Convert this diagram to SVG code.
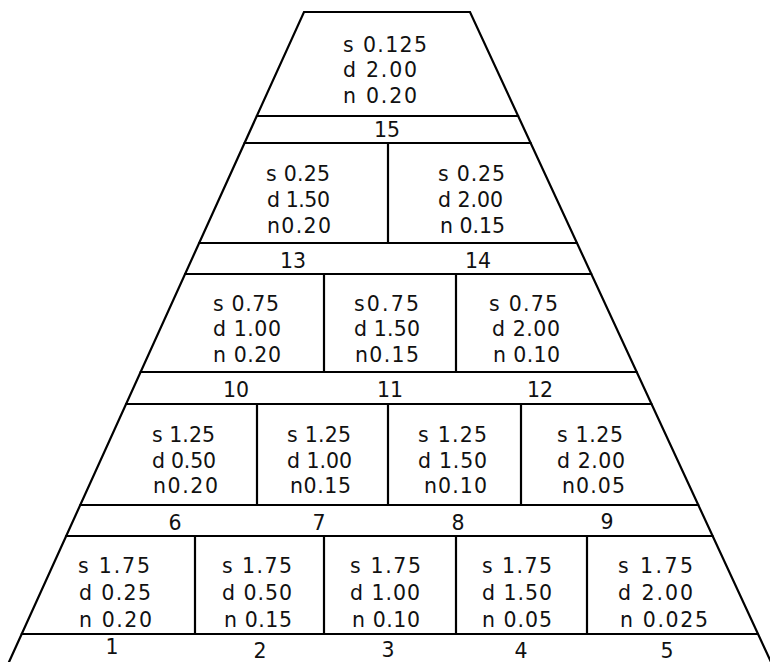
<svg xmlns="http://www.w3.org/2000/svg" width="770" height="662" viewBox="0 0 770 662">
<style>
.ln{stroke:#000;stroke-width:2.2;fill:none;stroke-linecap:round}
.t{font-family:"DejaVu Sans","Liberation Sans",sans-serif;font-size:20.5px;fill:#111}
.b{font-family:"DejaVu Sans","Liberation Sans",sans-serif;font-size:20.5px;fill:#111;text-anchor:middle}
</style>
<rect width="770" height="662" fill="#fff"/>
<g id="frame" class="ln">
<polyline points="9,662 304,12 470,12 771,662"/>
<line x1="256.8" y1="116" x2="518.2" y2="116"/>
<line x1="244.6" y1="143" x2="530.7" y2="143"/>
<line x1="199.2" y1="243" x2="577" y2="243"/>
<line x1="185.1" y1="274" x2="591.3" y2="274"/>
<line x1="140.6" y1="372" x2="636.7" y2="372"/>
<line x1="126.1" y1="404" x2="651.5" y2="404"/>
<line x1="80.3" y1="505" x2="698.3" y2="505"/>
<line x1="66.2" y1="536" x2="712.6" y2="536"/>
<line x1="21.7" y1="634" x2="758" y2="634"/>
<line x1="388" y1="143" x2="388" y2="243"/>
<line x1="324" y1="274" x2="324" y2="372"/>
<line x1="456" y1="274" x2="456" y2="372"/>
<line x1="257" y1="404" x2="257" y2="505"/>
<line x1="388" y1="404" x2="388" y2="505"/>
<line x1="521" y1="404" x2="521" y2="505"/>
<line x1="195" y1="536" x2="195" y2="634"/>
<line x1="324" y1="536" x2="324" y2="634"/>
<line x1="456" y1="536" x2="456" y2="634"/>
<line x1="587" y1="536" x2="587" y2="634"/>
</g>
<g id="labels" class="b">
<text x="387" y="137">15</text>
<text x="293" y="268">13</text>
<text x="478" y="268">14</text>
<text x="236" y="397">10</text>
<text x="390" y="397">11</text>
<text x="540" y="397">12</text>
<text x="175" y="530">6</text>
<text x="319" y="530">7</text>
<text x="458" y="530">8</text>
<text x="607" y="529">9</text>
<text x="112" y="654">1</text>
<text x="260" y="658">2</text>
<text x="388" y="657">3</text>
<text x="521" y="658">4</text>
<text x="667" y="658">5</text>
</g>
<g id="cell-apex" class="t">
<text x="343" y="52" textLength="84" lengthAdjust="spacing">s 0.125</text>
<text x="343" y="77" textLength="74" lengthAdjust="spacing">d 2.00</text>
<text x="343" y="103" textLength="74" lengthAdjust="spacing">n 0.20</text>
</g>
<g id="cell-13" class="t">
<text x="266" y="181" textLength="64" lengthAdjust="spacing">s 0.25</text>
<text x="267" y="207" textLength="63" lengthAdjust="spacing">d 1.50</text>
<text x="267" y="233" textLength="64" lengthAdjust="spacing">n0.20</text>
</g>
<g id="cell-14" class="t">
<text x="438" y="181" textLength="67" lengthAdjust="spacing">s 0.25</text>
<text x="438" y="207" textLength="65" lengthAdjust="spacing">d 2.00</text>
<text x="440" y="233" textLength="65" lengthAdjust="spacing">n 0.15</text>
</g>
<g id="cell-10" class="t">
<text x="213" y="311" textLength="66" lengthAdjust="spacing">s 0.75</text>
<text x="213" y="336" textLength="68" lengthAdjust="spacing">d 1.00</text>
<text x="213" y="362" textLength="68" lengthAdjust="spacing">n 0.20</text>
</g>
<g id="cell-11" class="t">
<text x="354" y="311" textLength="65" lengthAdjust="spacing">s0.75</text>
<text x="354" y="336" textLength="66" lengthAdjust="spacing">d 1.50</text>
<text x="355" y="362" textLength="64" lengthAdjust="spacing">n0.15</text>
</g>
<g id="cell-12" class="t">
<text x="489" y="311" textLength="69" lengthAdjust="spacing">s 0.75</text>
<text x="492" y="336" textLength="68" lengthAdjust="spacing">d 2.00</text>
<text x="493" y="362" textLength="67" lengthAdjust="spacing">n 0.10</text>
</g>
<g id="cell-6" class="t">
<text x="152" y="442" textLength="63" lengthAdjust="spacing">s 1.25</text>
<text x="152" y="468" textLength="64" lengthAdjust="spacing">d 0.50</text>
<text x="153" y="493" textLength="65" lengthAdjust="spacing">n0.20</text>
</g>
<g id="cell-7" class="t">
<text x="287" y="442" textLength="64" lengthAdjust="spacing">s 1.25</text>
<text x="287" y="468" textLength="65" lengthAdjust="spacing">d 1.00</text>
<text x="290" y="493" textLength="61" lengthAdjust="spacing">n0.15</text>
</g>
<g id="cell-8" class="t">
<text x="418" y="442" textLength="69" lengthAdjust="spacing">s 1.25</text>
<text x="418" y="468" textLength="69" lengthAdjust="spacing">d 1.50</text>
<text x="424" y="493" textLength="63" lengthAdjust="spacing">n0.10</text>
</g>
<g id="cell-9" class="t">
<text x="557" y="442" textLength="66" lengthAdjust="spacing">s 1.25</text>
<text x="557" y="468" textLength="68" lengthAdjust="spacing">d 2.00</text>
<text x="562" y="493" textLength="63" lengthAdjust="spacing">n0.05</text>
</g>
<g id="cell-1" class="t">
<text x="78" y="573" textLength="72" lengthAdjust="spacing">s 1.75</text>
<text x="79" y="600" textLength="72" lengthAdjust="spacing">d 0.25</text>
<text x="79" y="627" textLength="73" lengthAdjust="spacing">n 0.20</text>
</g>
<g id="cell-2" class="t">
<text x="222" y="573" textLength="70" lengthAdjust="spacing">s 1.75</text>
<text x="222" y="600" textLength="70" lengthAdjust="spacing">d 0.50</text>
<text x="224" y="627" textLength="68" lengthAdjust="spacing">n 0.15</text>
</g>
<g id="cell-3" class="t">
<text x="350" y="573" textLength="71" lengthAdjust="spacing">s 1.75</text>
<text x="350" y="600" textLength="70" lengthAdjust="spacing">d 1.00</text>
<text x="352" y="627" textLength="68" lengthAdjust="spacing">n 0.10</text>
</g>
<g id="cell-4" class="t">
<text x="482" y="573" textLength="70" lengthAdjust="spacing">s 1.75</text>
<text x="482" y="600" textLength="70" lengthAdjust="spacing">d 1.50</text>
<text x="482" y="627" textLength="70" lengthAdjust="spacing">n 0.05</text>
</g>
<g id="cell-5" class="t">
<text x="618" y="573" textLength="75" lengthAdjust="spacing">s 1.75</text>
<text x="618" y="600" textLength="75" lengthAdjust="spacing">d 2.00</text>
<text x="620" y="627" textLength="88" lengthAdjust="spacing">n 0.025</text>
</g>
</svg>
